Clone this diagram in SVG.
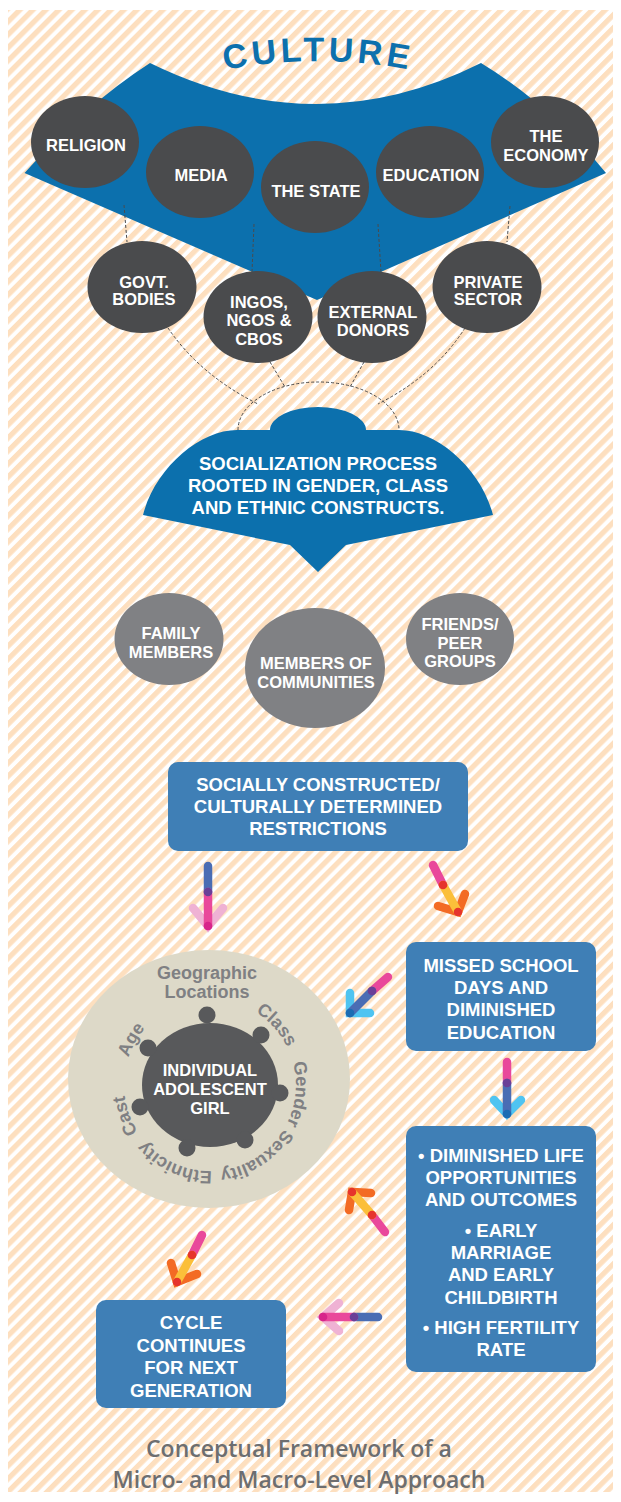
<svg xmlns="http://www.w3.org/2000/svg" width="621" height="1502" viewBox="0 0 621 1502">
<defs>
<pattern id="stripes" patternUnits="userSpaceOnUse" width="9.2" height="10" patternTransform="rotate(45)">
<rect x="0" y="0" width="5.2" height="10" fill="#fddfbf"/>
</pattern>
<path id="cultArc" d="M107,107.8 A500,500 0 0 1 529,107.8"/>
<path id="pClass" d="M214.5,999.1 A86,86 0 0 1 295.9,1089.5"/>
<path id="pGender" d="M276.8,1030.9 A86,86 0 0 1 264.1,1151.8"/>
<path id="pSex" d="M294.1,1102.9 A86,86 0 0 1 192.1,1169.1"/>
<path id="pEth" d="M240.8,1165.3 A86,86 0 0 1 129.7,1115.8"/>
<path id="pCast" d="M173.7,1162.9 A86,86 0 0 1 132.1,1048.7"/>
<path id="pAge" d="M126.9,1107.3 A86,86 0 0 1 187.7,1001.9"/>
</defs>
<style>
text { font-family: "Liberation Sans", Arial, sans-serif; font-weight: bold; text-anchor: middle; }
.w16 { font-size: 16.5px; fill: #ffffff; }
.w18 { font-size: 18.5px; fill: #ffffff; }
.g18 { font-size: 18px; fill: #7f8083; }
.dark { fill: #4a4b4d; }
.mid { fill: #808184; }
.box { fill: #3f7fb6; }
.dash { fill: none; stroke: #4a4b4d; stroke-width: 1; stroke-dasharray: 3 2; }
.ar { fill: none; stroke-width: 8.5; stroke-linecap: round; }
.cap { font-family: "Open Sans", "Liberation Sans", sans-serif; font-weight: 600; font-size: 23px; fill: #6d6e70; }
</style>
<rect x="0" y="0" width="621" height="1502" fill="#ffffff"/>
<rect x="8" y="10" width="605" height="1482" fill="url(#stripes)"/>

<g id="culture">
<path d="M150,63 Q317,145 481,63 Q550,105 606,173 L317,300 L24.5,173 Q85,105 150,63 Z" fill="#0c70ad"/>
<text style="font-size:34px;letter-spacing:4px;fill:#0c70ad"><textPath href="#cultArc" startOffset="50%">CULTURE</textPath></text>
</g>

<g id="connectors">
<path class="dash" d="M124,205 L127,242"/>
<path class="dash" d="M254,224 L252,272"/>
<path class="dash" d="M378,224 L381,272"/>
<path class="dash" d="M510,206 L507,242"/>
<path class="dash" d="M168,328 Q200,375 258,404"/>
<path class="dash" d="M270,362 L285,387"/>
<path class="dash" d="M364,362 L350,387"/>
<path class="dash" d="M465,328 Q435,375 378,404"/>
<path class="dash" d="M238,430 A80.5,48 0 0 1 399,430"/>
</g>

<g id="religion"><ellipse class="dark" cx="85" cy="142" rx="54" ry="46"/><text class="w16" x="86" y="151">RELIGION</text></g>
<g id="media"><ellipse class="dark" cx="200" cy="172" rx="54" ry="46"/><text class="w16" x="201" y="181">MEDIA</text></g>
<g id="the-state"><ellipse class="dark" cx="315" cy="187" rx="54" ry="46"/><text class="w16" x="316" y="197">THE STATE</text></g>
<g id="education"><ellipse class="dark" cx="430" cy="172" rx="54" ry="46"/><text class="w16" x="431" y="181">EDUCATION</text></g>
<g id="economy"><ellipse class="dark" cx="545" cy="142" rx="54" ry="46"/><text class="w16" x="546" y="142">THE</text><text class="w16" x="546" y="161">ECONOMY</text></g>

<g id="govt"><ellipse class="dark" cx="142" cy="287" rx="54.5" ry="46"/><text class="w16" x="144" y="288">GOVT.</text><text class="w16" x="144" y="305">BODIES</text></g>
<g id="ingos"><ellipse class="dark" cx="258" cy="317" rx="54.5" ry="46"/><text class="w16" x="259" y="308">INGOS,</text><text class="w16" x="259" y="326">NGOS &amp;</text><text class="w16" x="259" y="345">CBOS</text></g>
<g id="external"><ellipse class="dark" cx="372" cy="317" rx="54.5" ry="46"/><text class="w16" x="373" y="318">EXTERNAL</text><text class="w16" x="373" y="336">DONORS</text></g>
<g id="private"><ellipse class="dark" cx="487" cy="287" rx="54.5" ry="46"/><text class="w16" x="488" y="288">PRIVATE</text><text class="w16" x="488" y="305">SECTOR</text></g>

<g id="socialization">
<path d="M143,515 C155,468 200,430 237,430 L270,430 A48,23 0 0 1 366,430 L399,430 C436,430 481,468 493,515 L346,545 L318,572 L290,545 Z" fill="#0c70ad"/>
<text class="w18" x="318" y="470">SOCIALIZATION PROCESS</text>
<text class="w18" x="318" y="492">ROOTED IN GENDER, CLASS</text>
<text class="w18" x="318" y="514">AND ETHNIC CONSTRUCTS.</text>
</g>

<g id="family"><ellipse class="mid" cx="169" cy="639" rx="54.5" ry="46"/><text class="w16" x="171" y="639">FAMILY</text><text class="w16" x="171" y="658">MEMBERS</text></g>
<g id="communities"><ellipse class="mid" cx="315" cy="668" rx="70" ry="60"/><text class="w16" x="316" y="669">MEMBERS OF</text><text class="w16" x="316" y="688">COMMUNITIES</text></g>
<g id="friends"><ellipse class="mid" cx="460" cy="639" rx="54" ry="46"/><text class="w16" x="460" y="630">FRIENDS/</text><text class="w16" x="460" y="649">PEER</text><text class="w16" x="460" y="667">GROUPS</text></g>

<g id="restrictions"><rect class="box" x="168" y="762" width="300" height="89" rx="10"/>
<text class="w18" x="318" y="791">SOCIALLY CONSTRUCTED/</text>
<text class="w18" x="318" y="813">CULTURALLY DETERMINED</text>
<text class="w18" x="318" y="835">RESTRICTIONS</text></g>

<g id="missed"><rect class="box" x="406" y="942" width="190" height="109" rx="10"/>
<text class="w18" x="501" y="972">MISSED SCHOOL</text>
<text class="w18" x="501" y="994">DAYS AND</text>
<text class="w18" x="501" y="1016">DIMINISHED</text>
<text class="w18" x="501" y="1039">EDUCATION</text></g>

<g id="diminished"><rect class="box" x="406" y="1126" width="190" height="246" rx="10"/>
<text class="w18" x="501" y="1162">• DIMINISHED LIFE</text>
<text class="w18" x="501" y="1184">OPPORTUNITIES</text>
<text class="w18" x="501" y="1206">AND OUTCOMES</text>
<text class="w18" x="501" y="1237">• EARLY</text>
<text class="w18" x="501" y="1259">MARRIAGE</text>
<text class="w18" x="501" y="1281">AND EARLY</text>
<text class="w18" x="501" y="1304">CHILDBIRTH</text>
<text class="w18" x="501" y="1334">• HIGH FERTILITY</text>
<text class="w18" x="501" y="1356">RATE</text></g>

<g id="cycle"><rect class="box" x="96" y="1300" width="190" height="108" rx="10"/>
<text class="w18" x="191" y="1329">CYCLE</text>
<text class="w18" x="191" y="1352">CONTINUES</text>
<text class="w18" x="191" y="1374">FOR NEXT</text>
<text class="w18" x="191" y="1397">GENERATION</text></g>

<g id="girl">
<ellipse cx="209" cy="1079" rx="141" ry="129" fill="#ddd9c8"/>
<g fill="#58595b">
<ellipse cx="210" cy="1085" rx="68" ry="62"/>
<circle cx="207" cy="1015" r="8.5"/>
<circle cx="261" cy="1035" r="8.5"/>
<circle cx="280" cy="1093" r="8.5"/>
<circle cx="245" cy="1140" r="8.5"/>
<circle cx="187" cy="1148" r="8.5"/>
<circle cx="140" cy="1107" r="8.5"/>
<circle cx="148" cy="1048" r="8.5"/>
</g>
<text class="w16" x="210" y="1076">INDIVIDUAL</text>
<text class="w16" x="210" y="1095">ADOLESCENT</text>
<text class="w16" x="210" y="1114">GIRL</text>
<text class="g18" x="207" y="979">Geographic</text>
<text class="g18" x="207" y="998">Locations</text>
<text class="g18"><textPath href="#pClass" startOffset="50%">Class</textPath></text>
<text class="g18"><textPath href="#pGender" startOffset="50%">Gender</textPath></text>
<text class="g18"><textPath href="#pSex" startOffset="50%">Sexuality</textPath></text>
<text class="g18"><textPath href="#pEth" startOffset="50%">Ethnicity</textPath></text>
<text class="g18"><textPath href="#pCast" startOffset="50%">Cast</textPath></text>
<text class="g18"><textPath href="#pAge" startOffset="50%">Age</textPath></text>
</g>

<g id="arrows">
<g id="arrow1">
<path class="ar" stroke="#efb2d4" d="M193,908 L208,926 L223,908"/>
<path class="ar" stroke="#4a6db4" d="M208,866 L208,892"/>
<path class="ar" stroke="#e9489b" d="M208,892 L208,926"/>
<circle cx="208" cy="892" r="4.3" fill="#6a3f97"/><circle cx="208" cy="926" r="4.3" fill="#d7258b"/>
</g>
<g id="arrow2">
<path class="ar" stroke="#f36b24" d="M438,906 L458,912 L465,894"/>
<path class="ar" stroke="#e9489b" d="M433,865 L443,885"/>
<path class="ar" stroke="#fbbf3a" d="M443,885 L458,912"/>
<circle cx="443" cy="885" r="4.3" fill="#e6342c"/><circle cx="458" cy="912" r="4.3" fill="#e6342c"/>
</g>
<g id="arrow3">
<path class="ar" stroke="#4fc4f1" d="M350,993 L350,1013 L370,1013"/>
<path class="ar" stroke="#e9489b" d="M388,977 L372,991"/>
<path class="ar" stroke="#4a6db4" d="M372,991 L350,1013"/>
<circle cx="372" cy="991" r="4.3" fill="#6a3f97"/><circle cx="350" cy="1013" r="4.3" fill="#1b6cb3"/>
</g>
<g id="arrow4">
<path class="ar" stroke="#4fc4f1" d="M494,1100 L507,1114 L521,1100"/>
<path class="ar" stroke="#e9489b" d="M507,1062 L507,1083"/>
<path class="ar" stroke="#4a6db4" d="M507,1083 L507,1114"/>
<circle cx="507" cy="1083" r="4.3" fill="#6a3f97"/><circle cx="507" cy="1114" r="4.3" fill="#1b6cb3"/>
</g>
<g id="arrow5">
<path class="ar" stroke="#f36b24" d="M371,1193 L352,1192 L349,1210"/>
<path class="ar" stroke="#e9489b" d="M385,1232 L372,1215"/>
<path class="ar" stroke="#fbbf3a" d="M372,1215 L352,1192"/>
<circle cx="372" cy="1215" r="4.3" fill="#e6342c"/><circle cx="352" cy="1192" r="4.3" fill="#e6342c"/>
</g>
<g id="arrow6">
<path class="ar" stroke="#f36b24" d="M171,1263 L177,1282 L197,1274"/>
<path class="ar" stroke="#e9489b" d="M202,1235 L192,1255"/>
<path class="ar" stroke="#fbbf3a" d="M192,1255 L177,1282"/>
<circle cx="192" cy="1255" r="4.3" fill="#e6342c"/><circle cx="177" cy="1282" r="4.3" fill="#e6342c"/>
</g>
<g id="arrow7">
<path class="ar" stroke="#efb2d4" d="M339,1303 L323,1317 L339,1331"/>
<path class="ar" stroke="#4a6db4" d="M378,1317 L354,1317"/>
<path class="ar" stroke="#e9489b" d="M354,1317 L323,1317"/>
<circle cx="354" cy="1317" r="4.3" fill="#6a3f97"/><circle cx="323" cy="1317" r="4.3" fill="#d7258b"/>
</g>
</g>

<g id="caption">
<text class="cap" x="299" y="1457">Conceptual Framework of a</text>
<text class="cap" x="299" y="1488">Micro- and Macro-Level Approach</text>
</g>
</svg>
